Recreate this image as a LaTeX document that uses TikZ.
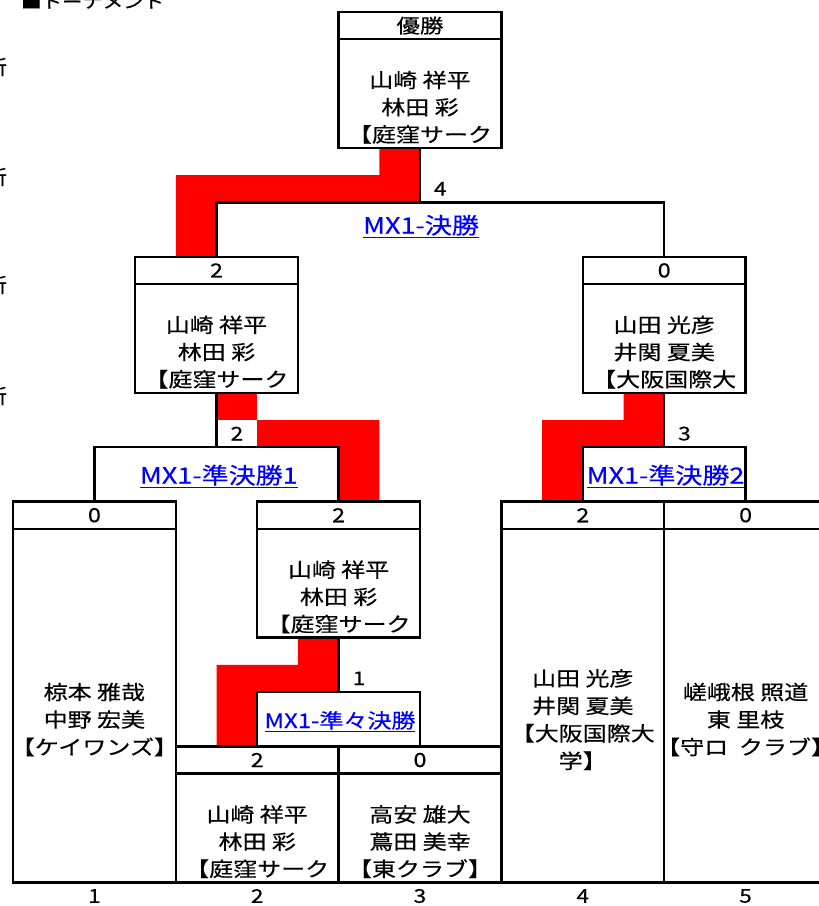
\documentclass[tikz,border=0pt]{standalone}
\usepackage{fontspec}
\setmainfont{Noto Sans CJK JP}[FakeStretch=1.2,FakeBold=0.4]
\definecolor{lnk}{RGB}{0,0,255}
\newcommand\celltext[5]{%
  \foreach \txt [count=\i from 0] in {#5}{%
    \node[nm] (#1\i) at (#2,{#3+#4*\i}) {\txt};}}
\begin{document}
\begin{tikzpicture}[x=1pt,y=-1pt,
  cell/.style={draw,line width=2.3pt,inner sep=0pt,outer sep=0pt,minimum width=162.8pt,anchor=north west,font=\fontsize{19.5}{19.5}\selectfont},
  score/.style={cell,minimum height=27.2pt},
  namecell/.style={cell,minimum height=#1},
  conn/.style={draw,line width=2.3pt},
  redfill/.style={fill=red},
  nm/.style={anchor=base,inner sep=0pt,font=\fontsize{20}{20}\selectfont},
  num/.style={inner sep=0pt,font=\fontsize{19}{19}\selectfont},
  lnklbl/.style={anchor=base,inner sep=0pt,text=lnk,font=\fontsize{22.5}{22.5}\selectfont},
]
\useasboundingbox (0,0) rectangle (819,906);

% title and cut-off side texts
\node[anchor=base west,inner sep=0pt,font=\fontsize{17}{17}\selectfont] (title) at (21,8) {■トーナメント};
\node[nm,anchor=center] (e1) at (-5,67) {新};
\node[nm,anchor=center] (e2) at (-5,177) {新};
\node[nm,anchor=center] (e3) at (-5,285) {新};
\node[nm,anchor=center] (e4) at (-5,396) {新};

% red winner paths (cell fills)
\fill[redfill] (379.3,148) -- (420,148) -- (420,202.4) -- (216.5,202.4) -- (216.5,256.8) -- (175.8,256.8) -- (175.8,175.2) -- (379.3,175.2) -- cycle;
\fill[redfill] (216.5,392.8) rectangle (257.2,420);
\fill[redfill] (257.2,420) -- (379.3,420) -- (379.3,501.6) -- (338.6,501.6) -- (338.6,447.2) -- (257.2,447.2) -- cycle;
\fill[redfill] (623.5,392.8) -- (664.2,392.8) -- (664.2,447.2) -- (582.8,447.2) -- (582.8,501.6) -- (542.1,501.6) -- (542.1,420) -- (623.5,420) -- cycle;
\fill[redfill] (297.9,637.6) -- (338.6,637.6) -- (338.6,692) -- (257.2,692) -- (257.2,746.4) -- (216.5,746.4) -- (216.5,664.8) -- (297.9,664.8) -- cycle;

% cells
\node[score] (wS) at (338.6,12) {優勝};
\node[namecell=108.8pt] (wN) at (338.6,39.2) {};
\node[score] (b2S) at (135.1,256.8) {2};
\node[namecell=108.8pt] (b2N) at (135.1,284) {};
\node[score] (b3S) at (582.8,256.8) {0};
\node[namecell=108.8pt] (b3N) at (582.8,284) {};
\node[score] (qwS) at (257.2,501.6) {2};
\node[namecell=108.8pt] (qwN) at (257.2,528.8) {};
\node[score] (p1S) at (13,501.6) {0};
\node[namecell=353.6pt] (p1N) at (13,528.8) {};
\node[score] (p2S) at (175.8,746.4) {2};
\node[namecell=108.8pt] (p2N) at (175.8,773.6) {};
\node[score] (p3S) at (338.6,746.4) {0};
\node[namecell=108.8pt] (p3N) at (338.6,773.6) {};
\node[score] (p4S) at (501.4,501.6) {2};
\node[namecell=353.6pt] (p4N) at (501.4,528.8) {};
\node[score] (p5S) at (664.2,501.6) {0};
\node[namecell=353.6pt] (p5N) at (664.2,528.8) {};

% names
\celltext{wt}{420}{87.6}{27.2}{山崎 祥平,林田 彩,【庭窪サーク}
\celltext{bt}{216.5}{332.4}{27.2}{山崎 祥平,林田 彩,【庭窪サーク}
\celltext{ct}{664.2}{332.4}{27.2}{山田 光彦,井関 夏美,【大阪国際大}
\celltext{qt}{338.6}{577.2}{27.2}{山崎 祥平,林田 彩,【庭窪サーク}
\celltext{ot}{94.4}{699.6}{27.5}{椋本 雅哉,中野 宏美,【ケイワンズ】}
\celltext{tt}{257.2}{822}{27.2}{山崎 祥平,林田 彩,【庭窪サーク}
\celltext{rt}{420}{822}{27.2}{高安 雄大,蔦田 美幸,【東クラブ】}
\celltext{ft}{582.8}{685.9}{27.5}{山田 光彦,井関 夏美,【大阪国際大,学】}
\celltext{vt}{745.6}{699.6}{27.5}{嵯峨根 照道,東 里枝,【守ロ\ \ クラブ】}

% bracket connectors
\coordinate (fC) at (420,202.4);
\coordinate (s1C) at (216.5,447.2);
\coordinate (s2C) at (664.2,447.2);
\coordinate (qC) at (338.6,692);
\draw[conn] (b2S.north) |- (fC) -| (b3S.north);
\draw[conn] (wN.south) -- (fC);
\draw[conn] (p1S.north) |- (s1C) -| (qwS.north);
\draw[conn] (b2N.south) -- (s1C);
\draw[conn] (p4S.north) |- (s2C) -| (p5S.north);
\draw[conn] (b3N.south) -- (s2C);
\draw[conn] (p2S.north) |- (qC) -| (p3S.north);
\draw[conn] (qwN.south) -- (qC);

% match scores
\node[num] (m4) at (440.3,188.8) {4};
\node[num] (m2) at (236.9,433.6) {2};
\node[num] (m3) at (684.5,433.6) {3};
\node[num] (m1) at (359,678.4) {1};

% match links
\node[lnklbl] (lf) at (421,233.7) {\underline{MX1-決勝}};
\node[lnklbl] (ls1) at (218.8,483.7) {\underline{MX1-準決勝1}};
\node[lnklbl] (ls2) at (665.5,483.7) {\underline{MX1-準決勝2}};
\node[lnklbl,font=\fontsize{20}{20}\selectfont] (lq) at (340,728) {\underline{MX1-準々決勝}};

% seed numbers
\node[num] (n1) at (94.4,896) {1};
\node[num] (n2) at (257.2,896) {2};
\node[num] (n3) at (420,896) {3};
\node[num] (n4) at (582.8,896) {4};
\node[num] (n5) at (745.6,896) {5};
\end{tikzpicture}
\end{document}
